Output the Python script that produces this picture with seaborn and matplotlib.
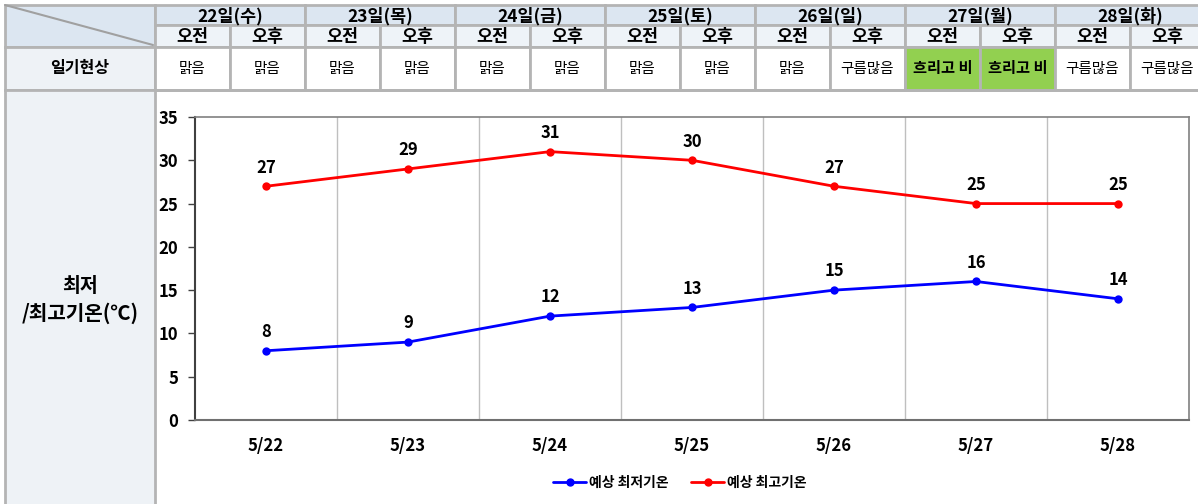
import matplotlib
matplotlib.use("Agg")
import matplotlib.pyplot as plt
import seaborn as sns
import pandas as pd
from matplotlib.patches import Rectangle
from matplotlib.lines import Line2D

# ---- data ----
days = ["22일(수)", "23일(목)", "24일(금)", "25일(토)", "26일(일)", "27일(월)", "28일(화)"]
halves = ["오전", "오후"]
weather = ["맑음", "맑음", "맑음", "맑음", "맑음", "맑음", "맑음", "맑음",
           "맑음", "구름많음", "흐리고 비", "흐리고 비", "구름많음", "구름많음"]
dates = ["5/22", "5/23", "5/24", "5/25", "5/26", "5/27", "5/28"]
t_min = [8, 9, 12, 13, 15, 16, 14]
t_max = [27, 29, 31, 30, 27, 25, 25]

sns.set_theme(style="white")
plt.rcParams['font.family'] = ['Noto Sans CJK KR', 'DejaVu Sans']
plt.rcParams['text.color'] = 'black'
plt.rcParams['xtick.labelcolor'] = 'black'
plt.rcParams['ytick.labelcolor'] = 'black'

W, H = 1198, 504
fig = plt.figure(figsize=(W / 100, H / 100), dpi=100)
fig.patch.set_facecolor("white")

# overlay axes in pixel coordinates for the table
ov = fig.add_axes([0, 0, 1, 1])
ov.set_xlim(0, W)
ov.set_ylim(H, 0)
ov.axis("off")

border = "#b4b4b4"
hdr1 = "#dce6f1"
hdr2 = "#eef3f8"
lab_bg = "#eef2f6"
green = "#92d050"

x0, xl = 5, 155
colw = 75
y_r1, y_r2, y_r3, y_r4 = 5, 25, 47, 90

def cell(x, y, w, h, fc):
    ov.add_patch(Rectangle((x, y), w, h, facecolor=fc, edgecolor=border, lw=2, zorder=1))

# top-left cell
cell(x0, y_r1, xl - x0, y_r3 - y_r1, hdr1)
ov.plot([x0, xl - 2], [y_r1, y_r3 - 2], color="#a0a0a0", lw=1.5, zorder=2)
# label cell
cell(x0, y_r3, xl - x0, y_r4 - y_r3, lab_bg)
ov.text((x0 + xl) / 2, (y_r3 + y_r4) / 2, "일기현상", ha="center", va="center",
        fontsize=11.5, fontweight="bold", color="black", zorder=3)

for i, d in enumerate(days):
    xs = xl + i * 2 * colw
    cell(xs, y_r1, 2 * colw, y_r2 - y_r1, hdr1)
    ov.text(xs + colw, (y_r1 + y_r2) / 2 + 1, d, ha="center", va="center",
            fontsize=12.5, fontweight="bold", color="black", zorder=3)
    for j, hf in enumerate(halves):
        xh = xs + j * colw
        cell(xh, y_r2, colw, y_r3 - y_r2, hdr2)
        ov.text(xh + colw / 2, (y_r2 + y_r3) / 2 + 1, hf, ha="center", va="center",
                fontsize=12.5, fontweight="bold", color="black", zorder=3)
        w = weather[2 * i + j]
        rainy = "비" in w
        cell(xh, y_r3, colw, y_r4 - y_r3, green if rainy else "white")
        ov.text(xh + colw / 2, (y_r3 + y_r4) / 2, w, ha="center", va="center",
                fontsize=11 if rainy else 10.5, color="black",
                fontweight="bold" if rainy else "normal", zorder=3)

# left label panel of chart
ov.add_patch(Rectangle((x0, y_r4), xl - x0, H - y_r4 + 5, facecolor=lab_bg,
                       edgecolor=border, lw=2, zorder=1))
ov.plot([xl, W], [y_r4, y_r4], color=border, lw=2, zorder=1)
ov.text((x0 + xl) / 2, 287, "최저", ha="center", va="center", fontsize=14,
        fontweight="bold", color="black", zorder=3)
ov.text((x0 + xl) / 2, 313, "/최고기온(℃)", ha="center", va="center", fontsize=14.5,
        fontweight="bold", color="black", zorder=3)

# ---- chart ----
left, right, top, bottom = 195, 1189, 117, 420
ax = fig.add_axes([left / W, (H - bottom) / H, (right - left) / W, (bottom - top) / H])
ax.set_facecolor("none")

df = pd.DataFrame({"x": list(range(len(dates))) * 2,
                   "val": t_min + t_max,
                   "series": ["예상 최저기온"] * len(dates) + ["예상 최고기온"] * len(dates)})
pal = {"예상 최저기온": "#0000ff", "예상 최고기온": "#ff0000"}
sns.lineplot(data=df, x="x", y="val", hue="series", palette=pal, marker="o",
             markersize=6, markeredgewidth=0, linewidth=2, ax=ax, legend=False, zorder=3)

for s, vals in (("예상 최저기온", t_min), ("예상 최고기온", t_max)):
    for i, v in enumerate(vals):
        ax.annotate(str(v), (i, v), xytext=(0, 7), textcoords="offset points",
                    ha="center", va="bottom", fontsize=12, fontweight="bold", color="black")

ax.set_xlim(-0.5, len(dates) - 0.5)
ax.set_ylim(0, 35)
ax.set_yticks(range(0, 36, 5))
ax.set_yticklabels([str(v) for v in range(0, 36, 5)], fontsize=12, fontweight="bold")
ax.set_xticks(range(len(dates)))
ax.set_xticklabels(dates, fontsize=12, fontweight="bold")
ax.set_xticks([i + 0.5 for i in range(len(dates) - 1)], minor=True)
ax.tick_params(axis="x", which="major", length=0, pad=12, labelcolor="black")
ax.tick_params(axis="x", which="minor", length=5, width=1, color="#b0b0b0", direction="out")
ax.tick_params(axis="y", length=5, width=1, color="#404040", direction="out", pad=7,
               left=True, labelcolor="black")
ax.grid(False)
ax.grid(axis="x", which="minor", color="#bfbfbf", lw=1)
ax.set_xlabel("")
ax.set_ylabel("")
for sp in ("top", "right"):
    ax.spines[sp].set_color("#808080")
    ax.spines[sp].set_linewidth(1.2)
ax.spines["left"].set_color("#404040")
ax.spines["left"].set_linewidth(1.5)
ax.spines["bottom"].set_color("#707070")
ax.spines["bottom"].set_linewidth(1.5)

handles = [Line2D([], [], color=pal[k], marker="o", markersize=5, lw=2, label=k) for k in pal]
leg = fig.legend(handles=handles, loc="center", bbox_to_anchor=(680 / W, 1 - 483 / H),
                 ncol=2, frameon=False, handlelength=2.4, handletextpad=0.2,
                 columnspacing=1.6, prop={"size": 10, "weight": "bold"})
for t in leg.get_texts():
    t.set_color("black")

fig.savefig("out.png", dpi=100)
